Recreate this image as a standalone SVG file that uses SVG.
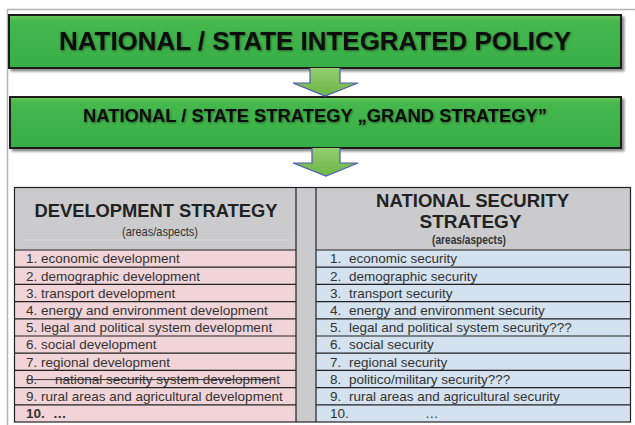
<svg xmlns="http://www.w3.org/2000/svg" width="635" height="425" viewBox="0 0 635 425">
<defs>
 <linearGradient id="g" x1="0" y1="0" x2="0" y2="1">
  <stop offset="0" stop-color="#6cc65a"/>
  <stop offset="0.12" stop-color="#45b84d"/>
  <stop offset="1" stop-color="#37ae47"/>
 </linearGradient>
 <linearGradient id="ag" x1="0" y1="0" x2="0" y2="1">
  <stop offset="0" stop-color="#93cd6e"/>
  <stop offset="1" stop-color="#6db646"/>
 </linearGradient>
 <filter id="sh" x="-5%" y="-10%" width="110%" height="130%">
  <feDropShadow dx="2.5" dy="2.5" stdDeviation="1.2" flood-color="#000" flood-opacity="0.45"/>
 </filter>
 <filter id="ts" x="-5%" y="-20%" width="110%" height="140%">
  <feDropShadow dx="0.8" dy="1" stdDeviation="0.8" flood-color="#000" flood-opacity="0.45"/>
 </filter>
</defs>
<style>
.box{fill:url(#g);stroke:#1b1b1b;stroke-width:2;filter:url(#sh)}
.bt{font-family:"Liberation Sans",Arial,sans-serif;font-weight:bold;fill:#0d0d0d;text-anchor:middle;filter:url(#ts)}
.arr{fill:url(#ag);stroke:#4b5cb3;stroke-width:1.2}
.hd{font-family:"Liberation Sans",Arial,sans-serif;font-weight:bold;fill:#222;text-anchor:middle;font-size:19px}
.sub{font-family:"Liberation Sans",Arial,sans-serif;fill:#333;text-anchor:middle;font-size:13px}
.r{font-family:"Liberation Sans",Arial,sans-serif;font-size:13.5px;fill:#333}
.pk{fill:#f1d4d7}
.bl{fill:#d4e1ee}
.gr{fill:#cbcbcd}
.ln{stroke:#222;stroke-width:1.2;fill:none}
.frame{stroke:#b4b4b4;stroke-width:1.5;fill:none}
</style>

<g id="page-frame">
 <path class="frame" d="M7.5,425 V9.5 H635"/>
</g>

<g id="node-policy">
 <rect class="box" x="9" y="15" width="612" height="53"/>
 <text class="bt" x="315" y="50" font-size="25.5" textLength="512" lengthAdjust="spacingAndGlyphs">NATIONAL / STATE INTEGRATED POLICY</text>
</g>

<g id="node-grand">
 <rect class="box" x="10" y="97" width="611" height="51"/>
 <text class="bt" x="315" y="121.5" font-size="17.5" textLength="464" lengthAdjust="spacingAndGlyphs">NATIONAL / STATE STRATEGY „GRAND STRATEGY”</text>
</g>

<g id="connectors">
 <path class="arr" d="M310,68 V83 H293 L325,96 L358,83 H340 V68"/>
 <path class="arr" d="M312,148 V163 H293 L326,176 L358,163 H340 V148"/>
</g>

<g id="table">
 <rect class="gr" x="14" y="187" width="617" height="63"/>
 <rect class="gr" x="296" y="187" width="20" height="235"/>
 <rect class="pk" x="14" y="250" width="282" height="172"/>
 <rect class="bl" x="316" y="250" width="315" height="172"/>
 <line x1="22" y1="240" x2="290" y2="240" stroke="#dadada" stroke-width="0.8"/>
 <g class="ln">
  <rect x="14.5" y="187.5" width="616" height="234.5"/>
  <line x1="296" y1="187" x2="296" y2="422"/>
  <line x1="316" y1="187" x2="316" y2="422"/>
  <path d="M14,250 H296 M316,250 H631
   M14,267.2 H296 M316,267.2 H631
   M14,284.4 H296 M316,284.4 H631
   M14,301.6 H296 M316,301.6 H631
   M14,318.8 H296 M316,318.8 H631
   M14,336 H296 M316,336 H631
   M14,353.2 H296 M316,353.2 H631
   M14,370.4 H296 M316,370.4 H631
   M14,387.6 H296 M316,387.6 H631
   M14,404.8 H296 M316,404.8 H631"/>
 </g>
</g>

<g id="node-development">
 <text class="hd" x="156" y="217" textLength="243" lengthAdjust="spacingAndGlyphs">DEVELOPMENT STRATEGY</text>
 <text class="sub" x="160" y="236" textLength="76" lengthAdjust="spacingAndGlyphs">(areas/aspects)</text>
 <text class="r" x="26" y="263.3">1. economic development</text>
 <text class="r" x="26" y="280.5">2. demographic development</text>
 <text class="r" x="26" y="297.7">3. transport development</text>
 <text class="r" x="26" y="314.9">4. energy and environment development</text>
 <text class="r" x="26" y="332.1">5. legal and political system development</text>
 <text class="r" x="26" y="349.3">6. social development</text>
 <text class="r" x="26" y="366.5">7. regional development</text>
 <text class="r" y="383.7"><tspan x="26">8.</tspan><tspan x="55">national security system development</tspan></text>
 <line x1="26" y1="379.6" x2="275" y2="379.6" stroke="#333" stroke-width="1"/>
 <text class="r" x="26" y="400.9">9. rural areas and agricultural development</text>
 <text class="r" y="418.1" font-weight="bold"><tspan x="26">10.</tspan><tspan x="53">…</tspan></text>
</g>

<g id="node-security">
 <text class="hd" x="472.5" y="207" textLength="193" lengthAdjust="spacingAndGlyphs">NATIONAL SECURITY</text>
 <text class="hd" x="470.5" y="228">STRATEGY</text>
 <text class="sub" x="469" y="244" font-weight="bold" fill="#222" textLength="74" lengthAdjust="spacingAndGlyphs">(areas/aspects)</text>
 <text class="r" y="263.3"><tspan x="330">1.</tspan><tspan x="349">economic security</tspan></text>
 <text class="r" y="280.5"><tspan x="330">2.</tspan><tspan x="349">demographic security</tspan></text>
 <text class="r" y="297.7"><tspan x="330">3.</tspan><tspan x="349">transport security</tspan></text>
 <text class="r" y="314.9"><tspan x="330">4.</tspan><tspan x="349">energy and environment security</tspan></text>
 <text class="r" y="332.1"><tspan x="330">5.</tspan><tspan x="349">legal and political system security???</tspan></text>
 <text class="r" y="349.3"><tspan x="330">6.</tspan><tspan x="349">social security</tspan></text>
 <text class="r" y="366.5"><tspan x="330">7.</tspan><tspan x="349">regional security</tspan></text>
 <text class="r" y="383.7"><tspan x="330">8.</tspan><tspan x="349">politico/military security???</tspan></text>
 <text class="r" y="400.9"><tspan x="330">9.</tspan><tspan x="349">rural areas and agricultural security</tspan></text>
 <text class="r" y="418.1"><tspan x="330">10.</tspan><tspan x="425">…</tspan></text>
</g>
</svg>
